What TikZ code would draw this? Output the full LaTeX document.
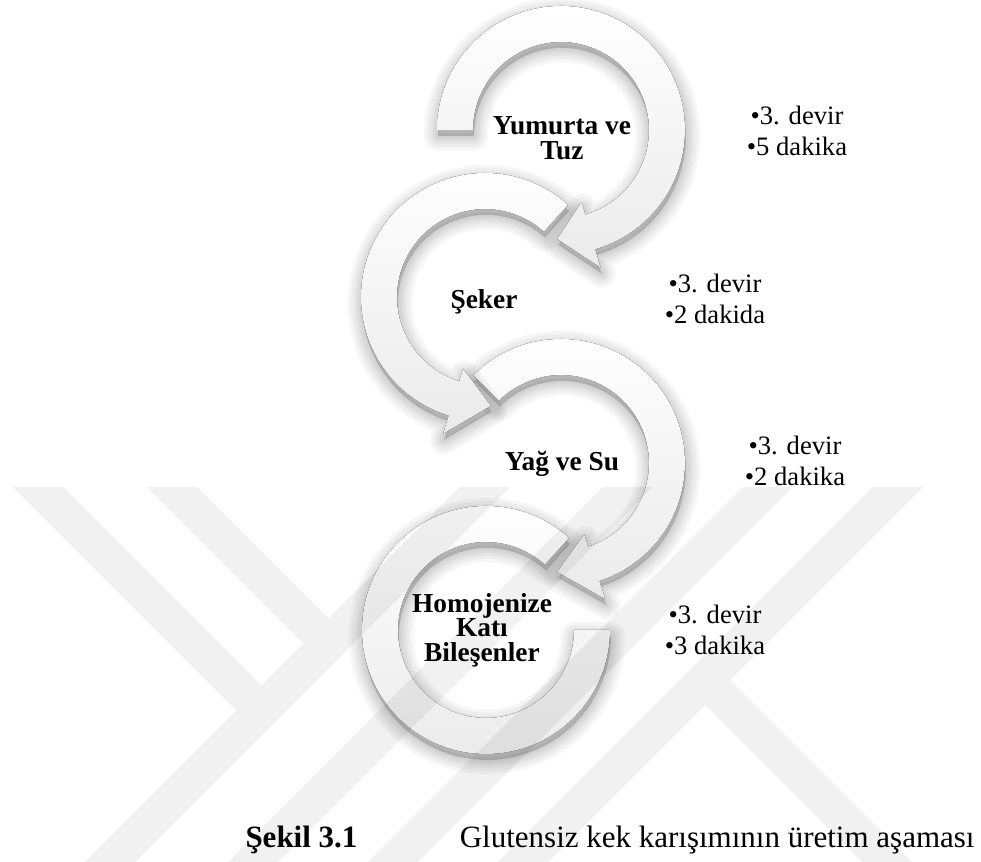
\documentclass[tikz,border=0pt]{standalone}
\usepackage{fontspec}
\setmainfont{Liberation Serif}
\usepackage{tikz}
\usetikzlibrary{positioning,calc}
\newcommand{\headarc}[3]{(#1:124) arc[start angle=#1, end angle=#2, radius=124] -- (#2:143) -- (#3:109) -- (#2:75) -- (#2:88) arc[start angle=#2, end angle=#1, radius=88] -- cycle}
\newcommand{\openarc}[2]{(#1:124) arc[start angle=#1, end angle=#2, radius=124] -- (#2:88) arc[start angle=#2, end angle=#1, radius=88] -- cycle}

\begin{document}
\begin{tikzpicture}[x=0.01361cm, y=0.01361cm,
  ringshadow/.style={fill=black, draw=black, opacity=0.035, line join=round},
  ringbody/.style={top color=white, bottom color=black!8},
  steplabel/.style={font=\fontsize{10.6}{9.5}\selectfont\bfseries, align=center, inner sep=0pt},
  bulletlist/.style={font=\fontsize{10.3}{12}\selectfont, align=center, inner sep=0pt},
  captionhead/.style={font=\fontsize{12}{14}\selectfont\bfseries, inner sep=0pt},
  captiontext/.style={font=\fontsize{12}{14}\selectfont, inner sep=0pt},
  watermark/.style={fill=black, opacity=0.055}]

\fill[white] (0,0) rectangle (981,862);
\useasboundingbox (0,0) rectangle (981,862);

\coordinate (c1) at (561,732);
\coordinate (c2) at (485,565);
\coordinate (c3) at (561,399);
\coordinate (c4) at (486,232);

% last ring first, so each arrow head lies on the next ring
\begin{scope}[shift={(c4)}]
  \foreach \w in {11pt,8.5pt,6pt,4pt,2pt}
    \filldraw[ringshadow, line width=\w, shift={(1,-6)}] \openarc{48}{360};
  \fill[ringbody] \openarc{48}{360};
\end{scope}
\begin{scope}[shift={(c3)}]
  \foreach \w in {11pt,8.5pt,6pt,4pt,2pt}
    \filldraw[ringshadow, line width=\w, shift={(1,-6)}] \headarc{135}{-72}{-92};
  \fill[ringbody] \headarc{135}{-72}{-92};
\end{scope}
\begin{scope}[shift={(c2)}]
  \foreach \w in {11pt,8.5pt,6pt,4pt,2pt}
    \filldraw[ringshadow, line width=\w, shift={(1,-6)}] \headarc{48}{253}{273};
  \fill[ringbody] \headarc{48}{253}{273};
\end{scope}
\begin{scope}[shift={(c1)}]
  \foreach \w in {11pt,8.5pt,6pt,4pt,2pt}
    \filldraw[ringshadow, line width=\w, shift={(1,-6)}] \headarc{180}{-74}{-92};
  \fill[ringbody] \headarc{180}{-74}{-92};
\end{scope}

\node[steplabel] (yumurta) at (562,724) {Yumurta ve\\Tuz};
\node[steplabel] (seker) at (484,560) {Şeker};
\node[steplabel] (yag) at (562,398) {Yağ ve Su};
\node[steplabel] (homojen) at (482,232) {Homojenize\\Katı\\Bileşenler};

\node[bulletlist] (devir1) at (797,731) {•3. devir\\•5 dakika};
\node[bulletlist] (devir2) at (715,563) {•3. devir\\•2 dakida};
\node[bulletlist] (devir3) at (795,401) {•3. devir\\•2 dakika};
\node[bulletlist] (devir4) at (715,232) {•3. devir\\•3 dakika};

\node[captionhead, anchor=base west] (sekil) at (245,14) {Şekil 3.1};
\node[captiontext, anchor=base east] (baslik) at (975,14) {Glutensiz kek karışımının üretim aşaması};

\fill[watermark] (13,375) -- (63,375) -- (261.5,176.5) -- (236.5,151.5) -- cycle
  (147,375) -- (197,375) -- (328.5,243.5) -- (303.5,218.5) -- cycle
  (85,0) -- (135,0) -- (510,375) -- (460,375) -- cycle
  (228,0) -- (278,0) -- (653,375) -- (603,375) -- cycle
  (368,0) -- (418,0) -- (793,375) -- (743,375) -- cycle
  (498,0) -- (548,0) -- (923,375) -- (873,375) -- cycle
  (705,157) -- (730,182) -- (912,0) -- (862,0) -- cycle;
\end{tikzpicture}
\end{document}
